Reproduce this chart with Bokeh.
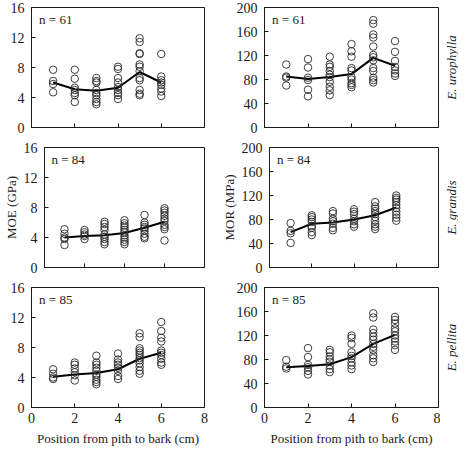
from bokeh.plotting import figure
from bokeh.layouts import column, row
from bokeh.models import Range1d, FixedTicker, Label
from bokeh.embed import file_html
from bokeh.resources import INLINE

# ---------------- data ----------------
positions = [1, 2, 3, 4, 5, 6]
x_ticks = [0, 2, 4, 6, 8]
moe_ticks = [0, 4, 8, 12, 16]
mor_ticks = [0, 40, 80, 120, 160, 200]
species = ["E. urophylla", "E. grandis", "E. pellita"]
n_labels = ["n = 61", "n = 84", "n = 85"]

# E. urophylla
uro_moe = [
    [7.7, 6.2, 5.8, 4.7],
    [7.7, 6.5, 5.3, 5.0, 4.6, 4.3, 3.4],
    [6.6, 6.2, 6.0, 5.0, 4.6, 4.3, 3.8, 3.4, 3.1],
    [8.1, 7.8, 6.6, 6.0, 5.4, 5.0, 4.6, 4.3, 3.8],
    [11.9, 11.4, 9.9, 9.8, 8.4, 8.1, 7.5, 6.6, 6.3, 5.0, 4.5, 4.3],
    [9.8, 6.8, 6.3, 6.0, 5.7, 5.2, 4.8, 4.2],
]
uro_moe_mean = [6.0, 5.1, 4.9, 5.3, 7.4, 6.0]
uro_mor = [
    [105, 85, 83, 70],
    [114, 100, 83, 79, 63, 52],
    [118, 105, 101, 94, 88, 84, 76, 68, 62, 54],
    [139, 127, 118, 99, 95, 84, 80, 74, 71, 67],
    [179, 173, 155, 150, 135, 121, 117, 112, 99, 94, 83, 79, 75],
    [144, 126, 111, 101, 95, 90, 86],
]
uro_mor_mean = [85, 81, 84, 89, 116, 103]

# E. grandis
gra_moe = [
    [5.1, 4.5, 4.0, 3.8, 3.0],
    [5.0, 4.7, 4.4, 4.2, 3.8],
    [6.1, 5.8, 5.4, 5.0, 4.4, 4.1, 3.8, 3.4, 3.1],
    [6.3, 5.9, 5.6, 5.3, 5.0, 4.7, 4.3, 4.0, 3.7, 3.4, 3.1],
    [7.0, 6.0, 5.7, 5.4, 5.2, 4.9, 4.5, 4.1, 3.9],
    [7.9, 7.6, 7.3, 6.9, 6.5, 6.2, 5.7, 5.4, 5.1, 3.6],
]
gra_moe_mean = [4.0, 4.2, 4.3, 4.6, 5.3, 6.1]
gra_mor = [
    [74, 61, 57, 41],
    [87, 84, 80, 76, 69, 66, 59, 54],
    [94, 90, 81, 77, 73, 66, 62],
    [97, 93, 89, 81, 77, 72, 68],
    [109, 102, 98, 94, 89, 84, 78, 72, 68, 64],
    [120, 116, 113, 109, 104, 99, 93, 88, 83, 78],
]
gra_mor_mean = [59, 73, 75, 80, 87, 100]

# E. pellita
pel_moe = [
    [5.1, 4.5, 4.0, 3.8],
    [6.0, 5.7, 5.2, 4.7, 4.3, 3.6],
    [6.9, 6.0, 5.7, 5.3, 4.9, 4.4, 4.1, 3.7, 3.4, 3.1],
    [7.2, 6.4, 6.0, 5.7, 5.3, 4.9, 4.2, 3.8],
    [9.9, 9.4, 7.9, 7.6, 7.3, 7.0, 6.6, 6.3, 5.9, 5.4, 4.9, 4.5],
    [11.4, 10.2, 9.3, 8.8, 7.6, 7.3, 7.0, 6.5, 6.0, 5.7],
]
pel_moe_mean = [4.1, 4.4, 4.6, 5.1, 6.5, 7.3]
pel_mor = [
    [79, 68, 65],
    [99, 84, 71, 67, 61, 55],
    [96, 92, 85, 80, 76, 70, 64, 59],
    [120, 116, 106, 92, 86, 82, 75, 70, 64],
    [157, 150, 130, 124, 118, 113, 106, 101, 96, 87, 82, 76],
    [151, 146, 140, 132, 127, 120, 115, 110, 104, 96],
]
pel_mor_mean = [67, 69, 72, 84, 106, 121]

FONT = "Liberation Serif"
INK = "#1a1a1a"


def style_axis(ax):
    ax.major_tick_in = 4
    ax.major_tick_out = 0
    ax.minor_tick_in = 0
    ax.minor_tick_out = 0
    ax.axis_line_color = INK
    ax.major_tick_line_color = INK
    ax.major_label_text_font = FONT
    ax.major_label_text_font_size = "14px"
    ax.major_label_text_color = INK
    ax.axis_label_text_font = FONT
    ax.axis_label_text_font_size = "13px"
    ax.axis_label_text_font_style = "normal"
    ax.axis_label_text_color = INK


def panel(values, means, ymax, yticks, n_text, width, height, mbl, mbr, mbt, mbb,
          ylabel=None, bottom=False):
    p = figure(width=width, height=height, x_range=Range1d(0, 8), y_range=Range1d(0, ymax),
               output_backend="svg", toolbar_location=None,
               min_border_left=mbl, min_border_right=mbr,
               min_border_top=mbt, min_border_bottom=mbb)
    p.xgrid.visible = False
    p.ygrid.visible = False
    p.outline_line_color = INK
    p.outline_line_width = 1
    p.background_fill_color = "white"
    p.border_fill_color = "white"

    style_axis(p.xaxis[0])
    style_axis(p.yaxis[0])
    p.xaxis.ticker = FixedTicker(ticks=x_ticks)
    p.yaxis.ticker = FixedTicker(ticks=yticks)
    p.yaxis.major_label_standoff = 7
    p.xaxis.major_label_standoff = 5
    if bottom:
        p.xaxis.axis_label = "Position from pith to bark (cm)"
        p.xaxis.axis_label_standoff = 5
    else:
        p.xaxis.major_label_overrides = {t: "" for t in x_ticks}
    if ylabel:
        p.yaxis.axis_label = ylabel
        p.yaxis.axis_label_standoff = 2

    xs = [pos for pos, vals in zip(positions, values) for _ in vals]
    ys = [v for vals in values for v in vals]
    p.line(positions, means, line_color="black", line_width=2)
    p.scatter(xs, ys, marker="circle", size=7.5, fill_color=None,
              line_color="#2a2a2a", line_width=0.9)

    p.add_layout(Label(x=0.35, y=ymax * 0.965, text=n_text, text_font=FONT,
                       text_font_size="13px", text_color=INK, text_baseline="top",
                       text_align="left"))
    return p


def species_strip(name, height, mbt, mbb):
    # thin figure whose left-axis label carries the species name (reads bottom-to-top)
    s = figure(width=18, height=height, x_range=Range1d(0, 1), y_range=Range1d(0, 1),
               output_backend="svg", toolbar_location=None,
               min_border_left=17, min_border_right=0,
               min_border_top=mbt, min_border_bottom=mbb)
    s.outline_line_color = None
    s.xgrid.visible = False
    s.ygrid.visible = False
    s.xaxis.visible = False
    s.background_fill_color = None
    s.border_fill_color = "white"
    ax = s.yaxis[0]
    style_axis(ax)
    ax.ticker = FixedTicker(ticks=[])
    ax.axis_line_color = None
    ax.major_tick_line_color = None
    ax.major_tick_in = 0
    ax.major_label_standoff = 0
    ax.axis_label = name
    ax.axis_label_text_font_style = "italic"
    ax.axis_label_standoff = 0
    return s


WL, WR = 218, 222
rows_spec = [
    # (height, mbt, mbb)
    (140, 7, 13),
    (140, 7, 13),
    (172, 7, 45),
]

moe_sets = [(uro_moe, uro_moe_mean), (gra_moe, gra_moe_mean), (pel_moe, pel_moe_mean)]
mor_sets = [(uro_mor, uro_mor_mean), (gra_mor, gra_mor_mean), (pel_mor, pel_mor_mean)]

rows = []
for i in range(3):
    h, mbt, mbb = rows_spec[i]
    is_mid = i == 1
    is_bottom = i == 2
    left = panel(moe_sets[i][0], moe_sets[i][1], 16, moe_ticks, n_labels[i], WL, h,
                 38 if is_mid else 31, 14, mbt, mbb,
                 ylabel="MOE (GPa)" if is_mid else None, bottom=is_bottom)
    right = panel(mor_sets[i][0], mor_sets[i][1], 200, mor_ticks, n_labels[i], WR, h,
                  46, 2, mbt, mbb,
                  ylabel="MOR (MPa)" if is_mid else None, bottom=is_bottom)
    strip = species_strip(species[i], h, mbt, mbb)
    rows.append(row(left, right, strip))

layout = column(*rows)
open("out.html", "w").write(file_html(layout, INLINE))
